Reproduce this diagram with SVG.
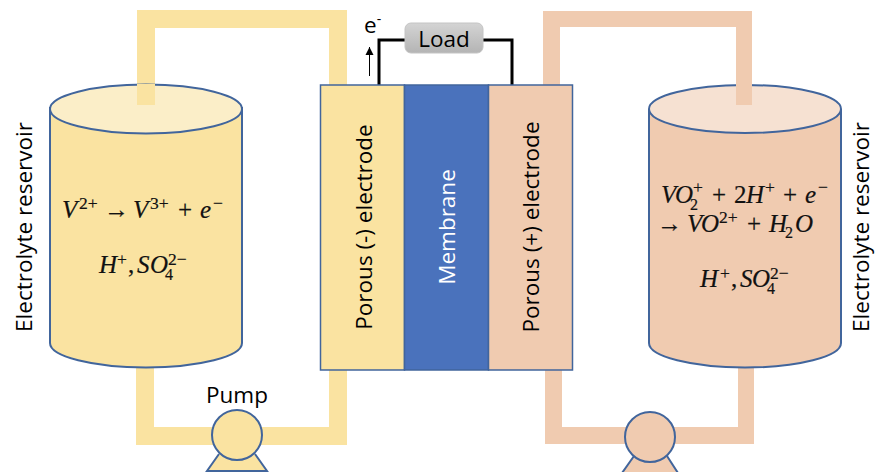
<svg xmlns="http://www.w3.org/2000/svg" width="875" height="472" viewBox="0 0 875 472">
<style>
.t{font-family:"Open Sans","Noto Sans","Liberation Sans",sans-serif;font-size:22.500px;fill:#000;text-anchor:middle}
.m{font-family:"Liberation Serif",serif;font-size:25px;font-style:italic;fill:#111;stroke:#111;stroke-width:.2}
.n{font-style:normal}
.y{fill:#fae3a1}
.o{fill:#f0cbb0}
.s{stroke:#41659c;stroke-width:2}
.p{stroke:#41659c;stroke-width:2}
.u{font-size:17.500px;font-style:normal}
.d{font-size:16px;font-style:normal}
</style>
<defs>
<linearGradient id="g" x1="0" y1="0" x2="0" y2="1"><stop offset="0" stop-color="#d4d4d4"/><stop offset="1" stop-color="#b4b4b4"/></linearGradient>
<marker id="a" markerWidth="9" markerHeight="9" refX="8" refY="4.500" orient="auto" markerUnits="userSpaceOnUse" viewBox="0 0 9 9"><path d="M0 0.500L8 4.500L0 8.500Z" fill="#000"/></marker>
</defs>
<g id="connectors">
<path class="y" d="M137 10H347V90H329V28H155V105H137Z"/>
<path class="o" d="M543 11H752V105H736V27H560V90H543Z"/>
<path class="y" d="M136 360H154V427H329V360H347V445H136Z"/>
<path class="o" d="M545 360H562V427H738V360H754V444H545Z"/>
<path d="M379 85V40H405M483 40H512V85" fill="none" stroke="#000" stroke-width="3"/>
<path d="M369.500 76V47" fill="none" stroke="#000" stroke-width="1" marker-end="url(#a)"/>
</g>
<g id="reservoir-left">
<path class="y s" d="M50 108V343A96 24.500 0 0 0 242 343V108Z"/>
<ellipse cx="146" cy="109" rx="96" ry="24.500" fill="#fbeec8" class="s"/>
<rect class="y" x="137" y="84" width="18" height="21"/>
<text class="m"><tspan x="62" y="218">V</tspan><tspan class="u" x="79" y="209">2+</tspan><tspan class="n" x="104" y="218">→</tspan><tspan x="133" y="218">V</tspan><tspan class="u" x="150" y="209">3+</tspan><tspan class="n" x="178" y="218">+</tspan><tspan x="200" y="218">e</tspan><tspan class="u" x="213" y="209">−</tspan></text>
<text class="m"><tspan x="99" y="273">H</tspan><tspan class="u" x="117" y="265">+</tspan><tspan class="n" x="128" y="273">,</tspan><tspan x="137" y="273">S</tspan><tspan x="150" y="273">O</tspan><tspan class="u" x="168" y="265">2−</tspan><tspan class="d" x="165" y="280">4</tspan></text>
</g>
<g id="reservoir-right">
<path class="o s" d="M649 110V343A96 24.500 0 0 0 841 343V110Z"/>
<ellipse cx="745" cy="109" rx="96" ry="24" fill="#f6e1d2" class="s"/>
<rect class="o" x="736" y="84" width="16" height="21"/>
<text class="m"><tspan x="661" y="203">V</tspan><tspan x="675" y="203">O</tspan><tspan class="u" x="693" y="193">+</tspan><tspan class="d" x="690" y="210">2</tspan><tspan class="n" x="712" y="203">+</tspan><tspan class="n" x="734" y="203">2</tspan><tspan x="746" y="203">H</tspan><tspan class="u" x="765" y="193">+</tspan><tspan class="n" x="783" y="203">+</tspan><tspan x="805" y="203">e</tspan><tspan class="u" x="818" y="193">−</tspan></text>
<text class="m"><tspan class="n" x="657" y="232">→</tspan><tspan x="687" y="232">V</tspan><tspan x="701" y="232">O</tspan><tspan class="u" x="719" y="223">2+</tspan><tspan class="n" x="747" y="232">+</tspan><tspan x="769" y="232">H</tspan><tspan class="d" x="785" y="238">2</tspan><tspan x="795" y="232">O</tspan></text>
<text class="m"><tspan x="700" y="287">H</tspan><tspan class="u" x="720" y="279">+</tspan><tspan class="n" x="731" y="287">,</tspan><tspan x="740" y="287">S</tspan><tspan x="752" y="287">O</tspan><tspan class="u" x="770" y="279">2−</tspan><tspan class="d" x="767" y="294">4</tspan></text>
</g>
<g id="cell">
<rect class="y" x="320.500" y="85" width="84" height="285" stroke="#41659c" stroke-width="1.500"/>
<rect x="404.500" y="85" width="84" height="285" fill="#4a72bc" stroke="#41659c" stroke-width="1.500"/>
<rect class="o" x="488.500" y="85" width="84" height="285" stroke="#41659c" stroke-width="1.500"/>
<text class="t" transform="translate(372 227) rotate(-90)">Porous (-) electrode</text>
<text class="t" transform="translate(455 227) rotate(-90)" style="fill:#fff">Membrane</text>
<text class="t" transform="translate(539 227) rotate(-90)">Porous (+) electrode</text>
</g>
<g id="load">
<rect x="405" y="23" width="78" height="30" rx="6" fill="url(#g)" stroke="#c4c4c4"/>
<text class="t" x="444" y="47">Load</text>
</g>
<g id="electron">
<text class="t" style="text-anchor:start" x="364" y="33">e<tspan font-size="14" dy="-9">-</tspan></text>
</g>
<g id="label-left"><text class="t" transform="translate(32 227) rotate(-90)">Electrolyte reservoir</text></g>
<g id="label-right"><text class="t" transform="translate(869 227) rotate(-90)">Electrolyte reservoir</text></g>
<g id="pump-left">
<text class="t" x="237" y="403">Pump</text>
<path class="y p" d="M219 454L207 471H267L255 454"/>
<circle class="y p" cx="237" cy="435" r="25"/>
</g>
<g id="pump-right">
<path class="o p" d="M634 456L622 473H678L667 456"/>
<circle class="o p" cx="650" cy="437" r="25"/>
</g>
</svg>
